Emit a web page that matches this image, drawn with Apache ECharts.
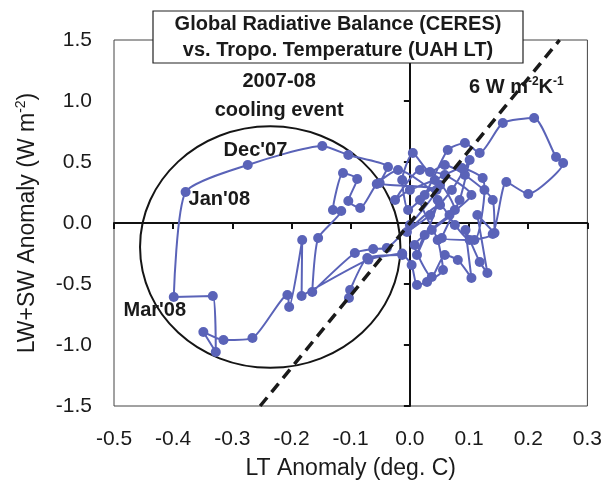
<!DOCTYPE html>
<html><head><meta charset="utf-8">
<script src="https://cdn.jsdelivr.net/npm/echarts@6/dist/echarts.min.js"></script>
<style>html,body{margin:0;padding:0;background:#fff}#c{width:605px;height:497px}</style>
</head><body><div id="c"></div>
<script>
// ---- data ----
const xTicks = [-0.5, -0.4, -0.3, -0.2, -0.1, 0.0, 0.1, 0.2, 0.3];
const yTicks = [-1.5, -1.0, -0.5, 0.0, 0.5, 1.0, 1.5];

const ltAnomaly = [
 -0.103,-0.101,-0.072,-0.013,0.003,0.012,0.029,0.056,0.047,0.017,
 0.051,0.076,0.037,0.008,0.037,0.059,0.081,0.104,0.094,0.118,
 0.131,0.114,0.143,0.140,0.093,0.059,0.034,0.005,-0.013,-0.003,
 0.025,0.064,0.093,0.118,0.157,0.210,0.247,0.259,0.200,0.163,
 0.140,0.101,0.076,0.051,-0.005,0.034,0.071,0.101,0.084,0.054,
 0.109,0.126,0.123,0.088,0.042,0.000,-0.025,0.017,0.059,0.104,
 0.067,0.025,0.012,0.047,-0.020,-0.056,-0.084,-0.104,-0.089,-0.113,
 -0.130,-0.116,-0.155,-0.165,-0.093,-0.062,-0.039,0.000,0.045,-0.051,
 -0.037,-0.104,-0.148,-0.274,-0.379,-0.399,-0.333,-0.328,-0.349,-0.315,
 -0.266,-0.207,-0.204,-0.182,-0.183,-0.070,-0.013
];
const radAnomaly = [
 -0.615,-0.549,-0.287,-0.262,-0.344,-0.508,-0.484,-0.385,-0.139,0.189,
 0.312,0.107,-0.057,-0.180,-0.443,-0.262,-0.303,-0.451,-0.057,-0.320,
 -0.410,0.066,-0.082,0.189,0.394,0.476,0.418,0.574,0.353,0.107,
 0.230,0.599,0.656,0.574,0.820,0.861,0.541,0.492,0.238,0.336,
 -0.090,-0.139,-0.016,0.148,-0.074,0.066,0.271,0.517,0.189,-0.123,
 -0.139,0.271,0.369,0.451,0.353,0.271,0.189,0.435,0.394,0.230,
 0.066,-0.098,-0.262,0.189,0.435,0.320,0.123,0.180,0.361,0.410,
 0.107,0.098,-0.123,-0.566,-0.246,-0.213,-0.205,-0.016,0.271,0.328,
 0.459,0.557,0.631,0.476,0.254,-0.607,-0.598,-1.057,-0.893,-0.959,
 -0.943,-0.590,-0.689,-0.139,-0.598,-0.300,-0.250
];

// 6 W m-2 K-1 reference line (end points)
const slopeLineX = [-0.253, 0.253];
const slopeLineY = [-1.5, 1.5];

// cooling-event ellipse: centre x, centre y, radius x, radius y (data units)
const coolingEllipse = [-0.236, -0.197, 0.22, 0.99];

// annotation texts and their data-space anchor points
const annotTexts = ['2007-08', 'cooling event', "Dec'07", "Jan'08", "Mar'08"];
const annotX = [-0.221, -0.221, -0.261, -0.322, -0.431];
const annotY = [1.156, 0.926, 0.598, 0.189, -0.721];
const slopeLabelX = 0.180, slopeLabelY = 1.107;

const titleLines = ['Global Radiative Balance (CERES)', 'vs. Tropo. Temperature (UAH LT)'];
const xName = 'LT Anomaly (deg. C)';

// ---- chart ----
const FONT = "'Liberation Sans', Arial, sans-serif";
const INK = '#1a1a1a';
const fmt = v => (Math.abs(v) < 1e-9 ? 0 : v).toFixed(1);
const chart = echarts.init(document.getElementById('c'), null, {renderer: 'canvas'});

const pts = ltAnomaly.map((x, i) => [x, radAnomaly[i]]);
const slopePts = slopeLineX.map((x, i) => [x, slopeLineY[i]]);

const option = {
  backgroundColor: '#fff',
  animation: false,
  textStyle: {fontFamily: FONT},
  grid: {left: 114, right: 16, top: 40, bottom: 91, show: true, borderColor: '#444', borderWidth: 1, backgroundColor: 'transparent'},
  xAxis: [
    {type: 'value', min: xTicks[0], max: xTicks[xTicks.length - 1], interval: 0.1, position: 'bottom',
     axisLine: {show: false, onZero: false}, axisTick: {show: false}, splitLine: {show: false},
     axisLabel: {formatter: fmt, fontSize: 21, color: INK, margin: 23, fontFamily: FONT},
     name: xName, nameLocation: 'middle', nameGap: 51,
     nameTextStyle: {fontSize: 23, color: INK, fontFamily: FONT}},
    {type: 'value', min: xTicks[0], max: xTicks[xTicks.length - 1], interval: 0.1, position: 'bottom',
     axisLine: {show: true, onZero: true, onZeroAxisIndex: 0, lineStyle: {color: '#111', width: 2}},
     axisTick: {show: true, length: 6, lineStyle: {color: '#111', width: 2}},
     axisLabel: {show: false}, splitLine: {show: false}}
  ],
  yAxis: [
    {type: 'value', min: yTicks[0], max: yTicks[yTicks.length - 1], interval: 0.5, position: 'left',
     axisLine: {show: false, onZero: false}, axisTick: {show: false}, splitLine: {show: false},
     axisLabel: {formatter: fmt, fontSize: 21, color: INK, margin: 22, fontFamily: FONT},
     name: '{n|LW+SW Anomaly (W m}{s|-2}{n|)}', nameLocation: 'middle', nameGap: 72,
     nameTextStyle: {fontSize: 23, color: INK, fontFamily: FONT,
       rich: {n: {fontSize: 23, fontFamily: FONT, color: INK, lineHeight: 28},
              s: {fontSize: 14, fontFamily: FONT, color: INK, verticalAlign: 'top', lineHeight: 28}}}},
    {type: 'value', min: yTicks[0], max: yTicks[yTicks.length - 1], interval: 0.5, position: 'left',
     axisLine: {show: true, onZero: true, onZeroAxisIndex: 0, lineStyle: {color: '#111', width: 2}},
     axisTick: {show: true, length: 6, lineStyle: {color: '#111', width: 2}},
     axisLabel: {show: false}, splitLine: {show: false}}
  ],
  series: [
    {type: 'custom', xAxisIndex: 0, yAxisIndex: 0, silent: true, z: 1,
     data: [coolingEllipse],
     renderItem: (params, api) => {
       const c = api.coord([api.value(0), api.value(1)]);
       const s = api.size([api.value(2), api.value(3)]);
       return {type: 'ellipse', shape: {cx: c[0], cy: c[1], rx: s[0], ry: s[1]},
               style: {fill: 'none', stroke: '#151515', lineWidth: 2}};
     }},
    {type: 'line', xAxisIndex: 0, yAxisIndex: 0, data: pts, z: 3, smooth: 0.2,
     symbol: 'circle', symbolSize: 10, showAllSymbol: true,
     lineStyle: {color: '#5a63b8', width: 2}, itemStyle: {color: '#5a63b8'}},
    {type: 'line', xAxisIndex: 0, yAxisIndex: 0, data: slopePts, z: 4, symbol: 'none',
     lineStyle: {color: INK, width: 3.5, type: [11, 7]}}
  ]
};
chart.setOption(option);

// annotations placed through the chart's own coordinate conversion
const graphics = [];
annotTexts.forEach((t, i) => {
  const p = chart.convertToPixel({xAxisIndex: 0, yAxisIndex: 0}, [annotX[i], annotY[i]]);
  graphics.push({type: 'text', x: p[0], y: p[1], z: 10,
    style: {text: t, font: "bold 20px " + FONT, fill: INK, align: 'center', verticalAlign: 'middle'}});
});
const sp = chart.convertToPixel({xAxisIndex: 0, yAxisIndex: 0}, [slopeLabelX, slopeLabelY]);
graphics.push({type: 'text', x: sp[0], y: sp[1], z: 10,
  style: {text: '{n|6 W m}{s|-2}{n|K}{s|-1}', align: 'center', verticalAlign: 'middle',
    rich: {n: {font: "bold 20px " + FONT, fill: INK, lineHeight: 24},
           s: {font: "bold 12px " + FONT, fill: INK, verticalAlign: 'top', lineHeight: 24}}}});
// title box
graphics.push({type: 'rect', shape: {x: 153, y: 11, width: 370, height: 52}, z: 20,
  style: {fill: '#fff', stroke: '#222', lineWidth: 1.2}});
titleLines.forEach((t, i) => {
  graphics.push({type: 'text', x: 338, y: 24 + i * 26, z: 21,
    style: {text: t, font: "bold 20px " + FONT, fill: INK, align: 'center', verticalAlign: 'middle'}});
});
chart.setOption({graphic: graphics});
</script></body></html>
